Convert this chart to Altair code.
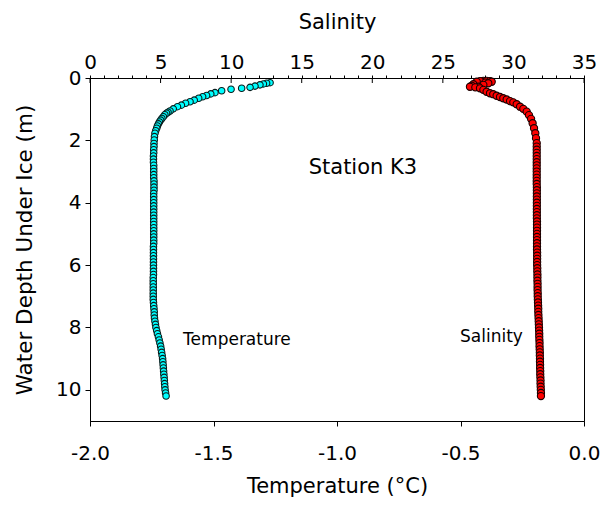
import altair as alt
import pandas as pd

# ---- Temperature profile (depth m, temperature degC) ----
temp_upper_depth = [0.15, 0.17, 0.19, 0.22, 0.26, 0.30, 0.33, 0.36, 0.41, 0.47,
                    0.51, 0.56, 0.60, 0.65, 0.71, 0.76, 0.81, 0.87, 0.92, 0.99,
                    1.06, 1.10, 1.13, 1.18, 1.24, 1.30, 1.35, 1.41, 1.47, 1.54,
                    1.61, 1.69, 1.77, 1.88, 1.99, 2.10, 2.20]
temp_upper_val = [-1.271, -1.285, -1.298, -1.312, -1.332, -1.352, -1.386, -1.429, -1.467, -1.494,
                  -1.511, -1.528, -1.544, -1.560, -1.578, -1.595, -1.613, -1.630, -1.646, -1.663,
                  -1.676, -1.684, -1.690, -1.697, -1.703, -1.709, -1.714, -1.719, -1.723, -1.727,
                  -1.730, -1.734, -1.737, -1.739, -1.740, -1.741, -1.741]

deep_depth = [2.3, 2.4, 2.5, 2.6, 2.7, 2.8, 2.9, 3.0,
              3.1, 3.2, 3.3, 3.4, 3.5, 3.6, 3.7, 3.8, 3.9, 4.0,
              4.1, 4.2, 4.3, 4.4, 4.5, 4.6, 4.7, 4.8, 4.9, 5.0,
              5.1, 5.2, 5.3, 5.4, 5.5, 5.6, 5.7, 5.8, 5.9, 6.0,
              6.1, 6.2, 6.3, 6.4, 6.5, 6.6, 6.7, 6.8, 6.9, 7.0,
              7.1, 7.2, 7.3, 7.4, 7.5, 7.6, 7.7, 7.8, 7.9, 8.0,
              8.1, 8.2, 8.3, 8.4, 8.5, 8.6, 8.7, 8.8, 8.9, 9.0,
              9.1, 9.2, 9.3, 9.4, 9.5, 9.6, 9.7, 9.8, 9.9, 10.0,
              10.1, 10.2]
temp_deep_val = [-1.742, -1.742, -1.743, -1.743, -1.743, -1.742, -1.742, -1.742,
                 -1.742, -1.742, -1.741, -1.741, -1.741, -1.741, -1.742, -1.742, -1.742, -1.742,
                 -1.742, -1.742, -1.742, -1.742, -1.742, -1.742, -1.742, -1.742, -1.742, -1.742,
                 -1.742, -1.742, -1.742, -1.743, -1.743, -1.743, -1.743, -1.743, -1.743, -1.743,
                 -1.743, -1.743, -1.743, -1.744, -1.744, -1.744, -1.744, -1.744, -1.744, -1.744,
                 -1.744, -1.743, -1.742, -1.741, -1.740, -1.740, -1.739, -1.737, -1.735, -1.733,
                 -1.730, -1.727, -1.723, -1.720, -1.717, -1.714, -1.712, -1.710, -1.708, -1.706,
                 -1.705, -1.704, -1.703, -1.702, -1.701, -1.700, -1.699, -1.698, -1.697, -1.696,
                 -1.694, -1.692]

# ---- Salinity profile (depth m, salinity) ----
sal_upper_depth = [0.09, 0.09, 0.10, 0.10, 0.12, 0.12, 0.15, 0.17, 0.20, 0.22,
                   0.25, 0.28, 0.28, 0.30, 0.33, 0.38, 0.44, 0.49, 0.52, 0.57,
                   0.61, 0.65, 0.69, 0.74, 0.78, 0.84, 0.92, 0.99, 1.08, 1.19,
                   1.31, 1.45, 1.61, 1.77, 1.93, 2.09, 2.20]
sal_upper_val = [27.87, 28.10, 27.63, 28.34, 27.40, 28.46, 28.00, 28.22, 27.16, 27.87,
                 27.05, 26.92, 27.52, 27.30, 27.63, 27.87, 28.10, 28.34, 28.57, 28.81,
                 29.05, 29.28, 29.52, 29.76, 29.99, 30.23, 30.47, 30.70, 30.94, 31.10,
                 31.25, 31.36, 31.46, 31.55, 31.60, 31.65, 31.65]
sal_deep_val = [31.65, 31.65, 31.65, 31.65, 31.65, 31.65, 31.65, 31.65,
                31.65, 31.65, 31.65, 31.65, 31.66, 31.66, 31.66, 31.66, 31.66, 31.66,
                31.66, 31.66, 31.66, 31.66, 31.66, 31.67, 31.67, 31.67, 31.67, 31.67,
                31.67, 31.67, 31.67, 31.67, 31.67, 31.68, 31.68, 31.68, 31.68, 31.68,
                31.69, 31.69, 31.70, 31.70, 31.70, 31.71, 31.71, 31.71, 31.72, 31.72,
                31.73, 31.74, 31.75, 31.76, 31.76, 31.77, 31.78, 31.79, 31.80, 31.81,
                31.82, 31.83, 31.83, 31.84, 31.85, 31.85, 31.86, 31.87, 31.87, 31.88,
                31.88, 31.89, 31.89, 31.90, 31.90, 31.91, 31.92, 31.92, 31.93, 31.94,
                31.95, 31.95]

sal_major_ticks = [0, 5, 10, 15, 20, 25, 30, 35]
sal_minor_ticks = list(range(0, 36))
temp_ticks = [-2.0, -1.5, -1.0, -0.5, 0.0]
depth_ticks = [0, 2, 4, 6, 8, 10]

labels_text = ["Station K3", "Temperature", "Salinity"]
labels_x = [-0.895, -1.623, -0.502]
labels_depth = [2.88, 8.40, 8.30]

temp_df = pd.DataFrame({"depth": temp_upper_depth + deep_depth,
                        "temp": temp_upper_val + temp_deep_val})
sal_df = pd.DataFrame({"depth": sal_upper_depth + deep_depth,
                       "sal": sal_upper_val + sal_deep_val})
tick_df = pd.DataFrame({"sal": sal_major_ticks})
lab_df = pd.DataFrame({"text": labels_text, "x": labels_x, "depth": labels_depth})

FONT = "DejaVu Sans"
yscale = alt.Scale(domain=[0, 11], reverse=True, nice=False, zero=False)
tscale = alt.Scale(domain=[-2, 0], nice=False, zero=False)
sscale = alt.Scale(domain=[0, 35], nice=False, zero=False)


def y_axis():
    return alt.Axis(orient="left", values=depth_ticks, title="Water Depth Under Ice (m)",
                    grid=False, tickSize=5, labelPadding=4, labelFontSize=20,
                    titleFontSize=21.5, titleFontWeight="normal", titlePadding=19,
                    domainColor="black", tickColor="black", labelColor="black",
                    titleColor="black", labelFont=FONT, titleFont=FONT)


temp_layer = alt.Chart(temp_df).mark_point(
    shape="circle", filled=True, fill="#00FFFF", stroke="#0a1a1a", strokeWidth=1.1,
    size=42, opacity=1
).encode(
    x=alt.X("temp:Q", scale=tscale,
            axis=alt.Axis(orient="bottom", values=temp_ticks,
                          labelExpr="(datum.value < 0 ? '-' : '') + format(abs(datum.value), '.1f')",
                          title="Temperature (°C)", grid=False, tickSize=5,
                          labelPadding=17, labelFontSize=20, titleFontSize=21,
                          titleFontWeight="normal", titlePadding=12,
                          domainColor="black", tickColor="black", labelColor="black",
                          titleColor="black", labelFont=FONT, titleFont=FONT,
                          labelFlush=False)),
    y=alt.Y("depth:Q", scale=yscale, axis=y_axis()),
)

sal_layer = alt.Chart(sal_df).mark_point(
    shape="circle", filled=True, fill="#FF0000", stroke="#1a0000", strokeWidth=1.1,
    size=52, opacity=1
).encode(
    x=alt.X("sal:Q", scale=sscale,
            axis=alt.Axis(orient="top", values=sal_minor_ticks, format="d",
                          labelExpr="datum.value % 5 == 0 ? datum.label : ''",
                          title="Salinity", grid=False, tickSize=3,
                          labelPadding=3, labelFontSize=20, titleFontSize=21,
                          titleFontWeight="normal", titlePadding=20,
                          domainColor="black", tickColor="black", labelColor="black",
                          titleColor="black", labelFont=FONT, titleFont=FONT,
                          labelFlush=False, labelOverlap=False)),
    y=alt.Y("depth:Q", scale=yscale, axis=y_axis()),
)

tick_layer = alt.Chart(tick_df).mark_rule(color="black", strokeWidth=1).encode(
    x=alt.X("sal:Q", scale=sscale, axis=None),
    y=alt.value(0),
    y2=alt.value(5),
)

station_text = alt.Chart(lab_df.iloc[[0]]).mark_text(
    font=FONT, fontSize=21, align="center", baseline="middle", color="black"
).encode(
    x=alt.X("x:Q", scale=tscale, axis=None),
    y=alt.Y("depth:Q", scale=yscale, axis=y_axis()),
    text="text:N",
)

series_text = alt.Chart(lab_df.iloc[[1, 2]]).mark_text(
    font=FONT, fontSize=17, align="left", baseline="middle", color="black"
).encode(
    x=alt.X("x:Q", scale=tscale, axis=None),
    y=alt.Y("depth:Q", scale=yscale, axis=y_axis()),
    text="text:N",
)

chart = alt.layer(temp_layer, sal_layer, tick_layer, station_text, series_text).resolve_scale(
    x="independent"
).properties(
    width=494, height=343,
    autosize=alt.AutoSizeParams(type="none"),
    padding={"left": 90, "top": 78, "right": 21, "bottom": 85},
).configure(font=FONT, background="white").configure_view(stroke="black", strokeWidth=1)

chart.save("out.html", embed_options={"renderer": "svg", "actions": False})
